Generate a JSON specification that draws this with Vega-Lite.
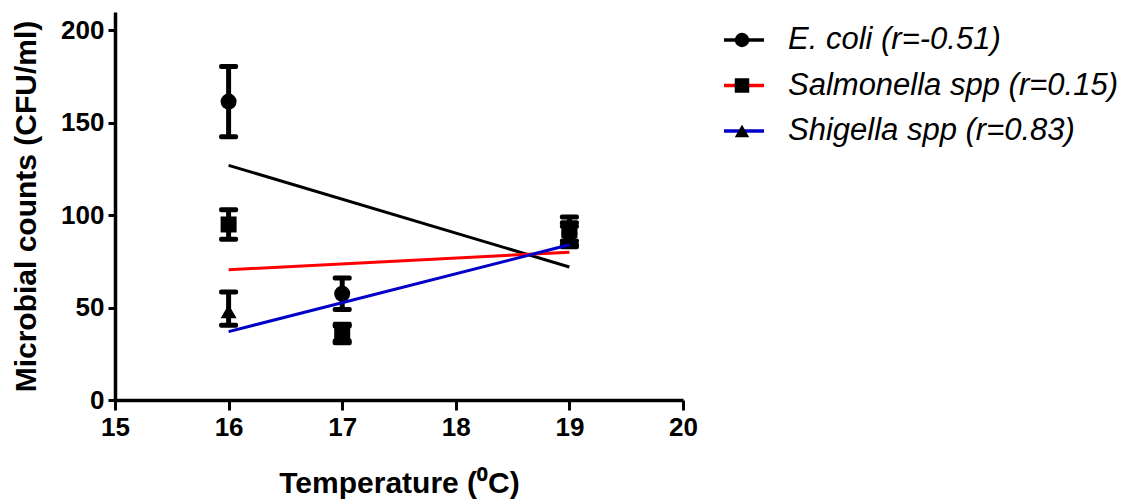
{
  "$schema": "https://vega.github.io/schema/vega-lite/v6.json",
  "width": 568,
  "height": 388,
  "autosize": "none",
  "padding": {"left": 115, "top": 12, "right": 442, "bottom": 103},
  "datasets": {
    "points": [
      {"species": "E. coli", "temp": 16, "mean": 161.5, "lo": 142.5, "hi": 180.5},
      {"species": "E. coli", "temp": 17, "mean": 57.5, "lo": 49, "hi": 66},
      {"species": "E. coli", "temp": 19, "mean": 90, "lo": 83, "hi": 96},
      {"species": "Salmonella spp", "temp": 16, "mean": 95, "lo": 87, "hi": 103},
      {"species": "Salmonella spp", "temp": 17, "mean": 36, "lo": 31, "hi": 41},
      {"species": "Salmonella spp", "temp": 19, "mean": 92, "lo": 86, "hi": 99},
      {"species": "Shigella spp", "temp": 16, "mean": 48, "lo": 40.5, "hi": 58.5},
      {"species": "Shigella spp", "temp": 17, "mean": 36, "lo": 32, "hi": 40},
      {"species": "Shigella spp", "temp": 19, "mean": 89, "lo": 84, "hi": 94}
    ],
    "fits": [
      {"series": "E. coli (r=-0.51)", "temp": 16, "count": 127},
      {"series": "E. coli (r=-0.51)", "temp": 19, "count": 72},
      {"series": "Salmonella spp (r=0.15)", "temp": 16, "count": 70.5},
      {"series": "Salmonella spp (r=0.15)", "temp": 19, "count": 80},
      {"series": "Shigella spp (r=0.83)", "temp": 16, "count": 37},
      {"series": "Shigella spp (r=0.83)", "temp": 19, "count": 84}
    ]
  },
  "layer": [
    {
      "data": {"name": "points"},
      "mark": {"type": "rule", "strokeWidth": 5, "color": "black"},
      "encoding": {
        "x": {
          "field": "temp", "type": "quantitative",
          "scale": {"domain": [15, 20], "nice": false, "zero": false},
          "axis": {
            "title": "Temperature (⁰C)",
            "values": [15, 16, 17, 18, 19, 20],
            "format": "d",
            "grid": false,
            "domainWidth": 3.5,
            "tickWidth": 3,
            "tickSize": 10,
            "labelFontSize": 26,
            "labelFontWeight": "bold",
            "labelPadding": 4,
            "labelFlush": false,
            "titleFontSize": 30,
            "titleFontWeight": "bold",
            "titlePadding": 28
          }
        },
        "y": {
          "field": "lo", "type": "quantitative",
          "scale": {"domain": [0, 210], "nice": false},
          "axis": {
            "title": "Microbial counts (CFU/ml)",
            "values": [0, 50, 100, 150, 200],
            "grid": false,
            "domainWidth": 3.5,
            "tickWidth": 3,
            "tickSize": 7,
            "labelFontSize": 26,
            "labelFontWeight": "bold",
            "labelPadding": 4,
            "titleFontSize": 30,
            "titleFontWeight": "bold",
            "titlePadding": 19
          }
        },
        "y2": {"field": "hi"}
      }
    },
    {
      "data": {"name": "points"},
      "mark": {"type": "tick", "orient": "horizontal", "size": 19, "thickness": 5, "color": "black", "opacity": 1, "cornerRadius": 2},
      "encoding": {
        "x": {"field": "temp", "type": "quantitative"},
        "y": {"field": "hi", "type": "quantitative"}
      }
    },
    {
      "data": {"name": "points"},
      "mark": {"type": "tick", "orient": "horizontal", "size": 19, "thickness": 5, "color": "black", "opacity": 1, "cornerRadius": 2},
      "encoding": {
        "x": {"field": "temp", "type": "quantitative"},
        "y": {"field": "lo", "type": "quantitative"}
      }
    },
    {
      "data": {"name": "points"},
      "mark": {"type": "point", "filled": true, "color": "black", "opacity": 1, "size": 256},
      "encoding": {
        "x": {"field": "temp", "type": "quantitative"},
        "y": {"field": "mean", "type": "quantitative"},
        "shape": {
          "field": "species", "type": "nominal",
          "scale": {
            "domain": ["E. coli", "Salmonella spp", "Shigella spp"],
            "range": ["circle", "square", "triangle-up"]
          },
          "legend": {
            "orient": "none",
            "legendX": 612,
            "legendY": 8,
            "padding": 0,
            "title": null,
            "symbolSize": 210,
            "symbolFillColor": "black",
            "symbolStrokeWidth": 0,
            "clipHeight": 40,
            "rowPadding": 5.5,
            "labelExpr": "''",
            "labelFontSize": 30,
            "zindex": 2
          }
        }
      }
    },
    {
      "data": {"name": "fits"},
      "mark": {"type": "line", "strokeWidth": 3},
      "encoding": {
        "x": {"field": "temp", "type": "quantitative"},
        "y": {"field": "count", "type": "quantitative"},
        "color": {
          "field": "series", "type": "nominal",
          "scale": {
            "domain": ["E. coli (r=-0.51)", "Salmonella spp (r=0.15)", "Shigella spp (r=0.83)"],
            "range": ["#000000", "#ff0000", "#0000c8"]
          },
          "legend": {
            "orient": "none",
            "legendX": 607,
            "legendY": 8,
            "padding": 0,
            "title": null,
            "symbolType": "stroke",
            "symbolSize": 1600,
            "symbolStrokeWidth": 3.5,
            "clipHeight": 40,
            "rowPadding": 5.5,
            "labelOffset": 22,
            "labelFontSize": 31,
            "labelFontStyle": "italic",
            "labelFont": "Liberation Sans",
            "labelColor": "black",
            "labelLimit": 600,
            "zindex": 1
          }
        }
      }
    }
  ],
  "config": {
    "font": "Liberation Sans",
    "view": {"stroke": null},
    "axis": {
      "domainColor": "black",
      "tickColor": "black",
      "labelColor": "black",
      "titleColor": "black"
    }
  }
}
